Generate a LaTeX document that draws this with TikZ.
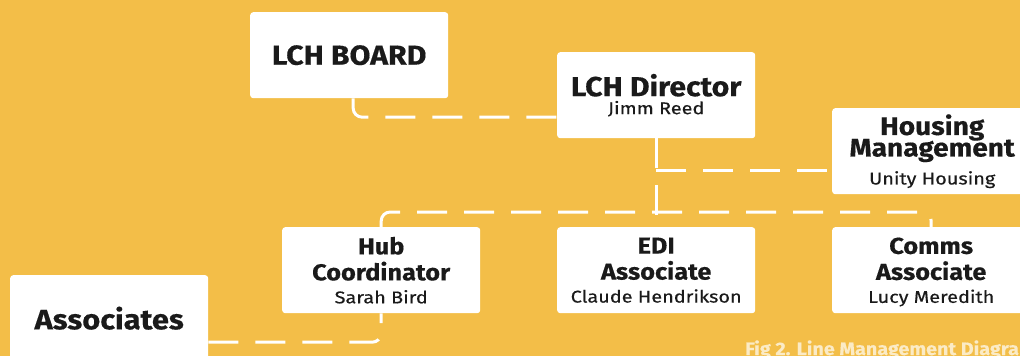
\documentclass[tikz,border=0pt]{standalone}
\usepackage{fontspec}
\setmainfont{Fira Sans}[FakeStretch=1.17, FakeBold=0.4, BoldFeatures={FakeStretch=1.1}]
\definecolor{bg}{HTML}{F3BE48}
\definecolor{ink}{HTML}{1A1A1A}
\definecolor{capt}{HTML}{FBEBC6}
\newcommand{\tightls}{\lineskiplimit=-100pt\relax}
\newcommand{\nodepth}[1]{\raisebox{0pt}[\height][0pt]{#1}}
\tikzset{
  box/.style={fill=white, rounded corners=3pt, minimum width=198pt, minimum height=86pt,
    inner sep=0pt, align=center, text=ink, anchor=north west},
  conn/.style={draw=white, line width=3pt, dash pattern=on 30pt off 17pt, rounded corners=9pt},
}
\newcommand{\namefont}{\fontsize{17}{18}\mdseries\selectfont}
\begin{document}
\begin{tikzpicture}[x=1pt, y=-1pt]
\useasboundingbox[fill=bg] (0,0) rectangle (1020,356);
\node[box, font=\fontsize{27.5}{31}\selectfont\bfseries] (board) at (250,12) {LCH BOARD};
\node[box, font=\fontsize{27.5}{18}\selectfont\bfseries\tightls] (director) at (557,52) {LCH Director\\{\namefont Jimm Reed}};
\node[box, minimum width=200pt, font=\fontsize{25.5}{21.5}\selectfont\bfseries\tightls] (housing) at (832,108) {Housing\\Management\\[6.5pt]{\namefont Unity Housing}};
\node[box, font=\fontsize{23}{26}\selectfont\bfseries\tightls] (hub) at (282,227) {Hub\\Coordinator\\[-3pt]{\namefont Sarah Bird}};
\node[box, font=\fontsize{23}{26}\selectfont\bfseries\tightls] (edi) at (557,227) {EDI\\Associate\\[-3pt]{\namefont Claude Hendrikson}};
\node[box, font=\fontsize{23}{26}\selectfont\bfseries\tightls] (comms) at (832,227) {Comms\\Associate\\[-3pt]{\namefont \nodepth{Lucy Meredith}}};
\node[box, font=\fontsize{28}{31}\selectfont\bfseries] (assoc) at (10,275) {Associates};
\node[anchor=base west, inner sep=0pt, text=capt, font=\fontsize{18}{20}\selectfont\bfseries] (caption) at (745,355) {Fig 2. Line Management Diagram};
% connectors
\draw[conn] ([xshift=4pt]board.south) |- ([yshift=-22pt]director.west);
\draw[conn, rounded corners=0pt] (director.south) -- (edi.north);
\draw[conn, rounded corners=0pt] (director.south |- 0,170) coordinate (jn) -- (jn -| housing.west);
\draw[conn] (hub.north) -- ++(0,-15) -| (comms.north);
\draw[conn] ([yshift=-24pt]assoc.east) -| (hub.south);
\end{tikzpicture}
\end{document}
